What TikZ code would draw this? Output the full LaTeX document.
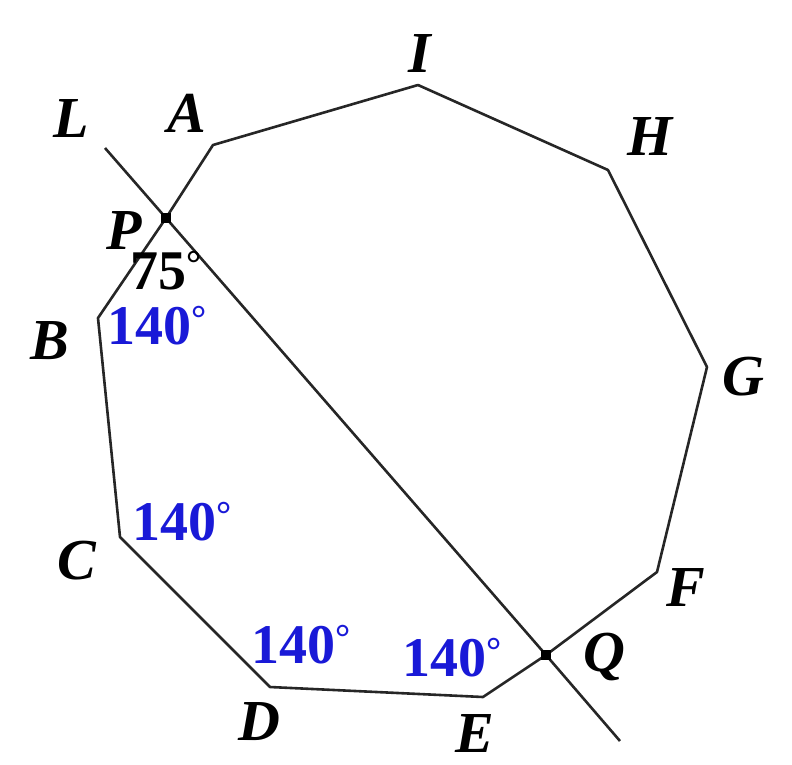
\documentclass[tikz,border=0pt]{standalone}
\usepackage{fontspec}
\setmainfont{Liberation Serif}
\definecolor{angblue}{RGB}{25,25,215}
\newcommand{\degsym}{\raisebox{13pt}{\fontsize{38}{38}\selectfont °}}
\begin{document}
\begin{tikzpicture}[x=1pt,y=-1pt,
  lab/.style={inner sep=0pt,font=\fontsize{58}{64}\selectfont\bfseries\itshape},
  ang/.style={inner sep=0pt,font=\fontsize{56}{60}\selectfont\bfseries,text=angblue},
  edge/.style={line width=2.6pt,line join=round,black!85},
  dot/.style={fill=black,minimum size=10pt,inner sep=0pt,rectangle}]
\useasboundingbox (0,0) rectangle (792,764);
% vertices
\coordinate (A) at (213,145);
\coordinate (I) at (418,85);
\coordinate (H) at (608,170);
\coordinate (G) at (707,367);
\coordinate (F) at (657,572);
\coordinate (E) at (483,697);
\coordinate (D) at (270,687);
\coordinate (C) at (120,537);
\coordinate (B) at (98,318);
\coordinate (P) at (166,218);
\coordinate (Q) at (546,655);
\coordinate (L1) at (105,148);
\coordinate (L2) at (620,741);
% polygon
\draw[edge] (A) -- (I) -- (H) -- (G) -- (F) -- (Q) -- (E) -- (D) -- (C) -- (B) -- (P) -- cycle;
% line L
\draw[edge] (L1) -- (P) -- (Q) -- (L2);
\node[dot] (Pdot) at (P) {};
\node[dot] (Qdot) at (Q) {};
% labels
\node[lab] (lL) at (71,119) {L};
\node[lab] (lA) at (187,113) {A};
\node[lab] (lI) at (420,54) {I};
\node[lab] (lH) at (650,137) {H};
\node[lab] (lG) at (743,377) {G};
\node[lab] (lF) at (686,587) {F};
\node[lab] (lQ) at (604,657) {Q};
\node[lab] (lE) at (475,733) {E};
\node[lab] (lD) at (259,722) {D};
\node[lab] (lC) at (77,561) {C};
\node[lab] (lB) at (50,341) {B};
\node[lab] (lP) at (124,231) {P};
% angles
\node[ang,text=black] (a75) at (166,271) {75\degsym};
\node[ang] (aB) at (157,326) {140\degsym};
\node[ang] (aC) at (182,522) {140\degsym};
\node[ang] (aD) at (301,645) {140\degsym};
\node[ang] (aE) at (452,658) {140\degsym};
\end{tikzpicture}
\end{document}
